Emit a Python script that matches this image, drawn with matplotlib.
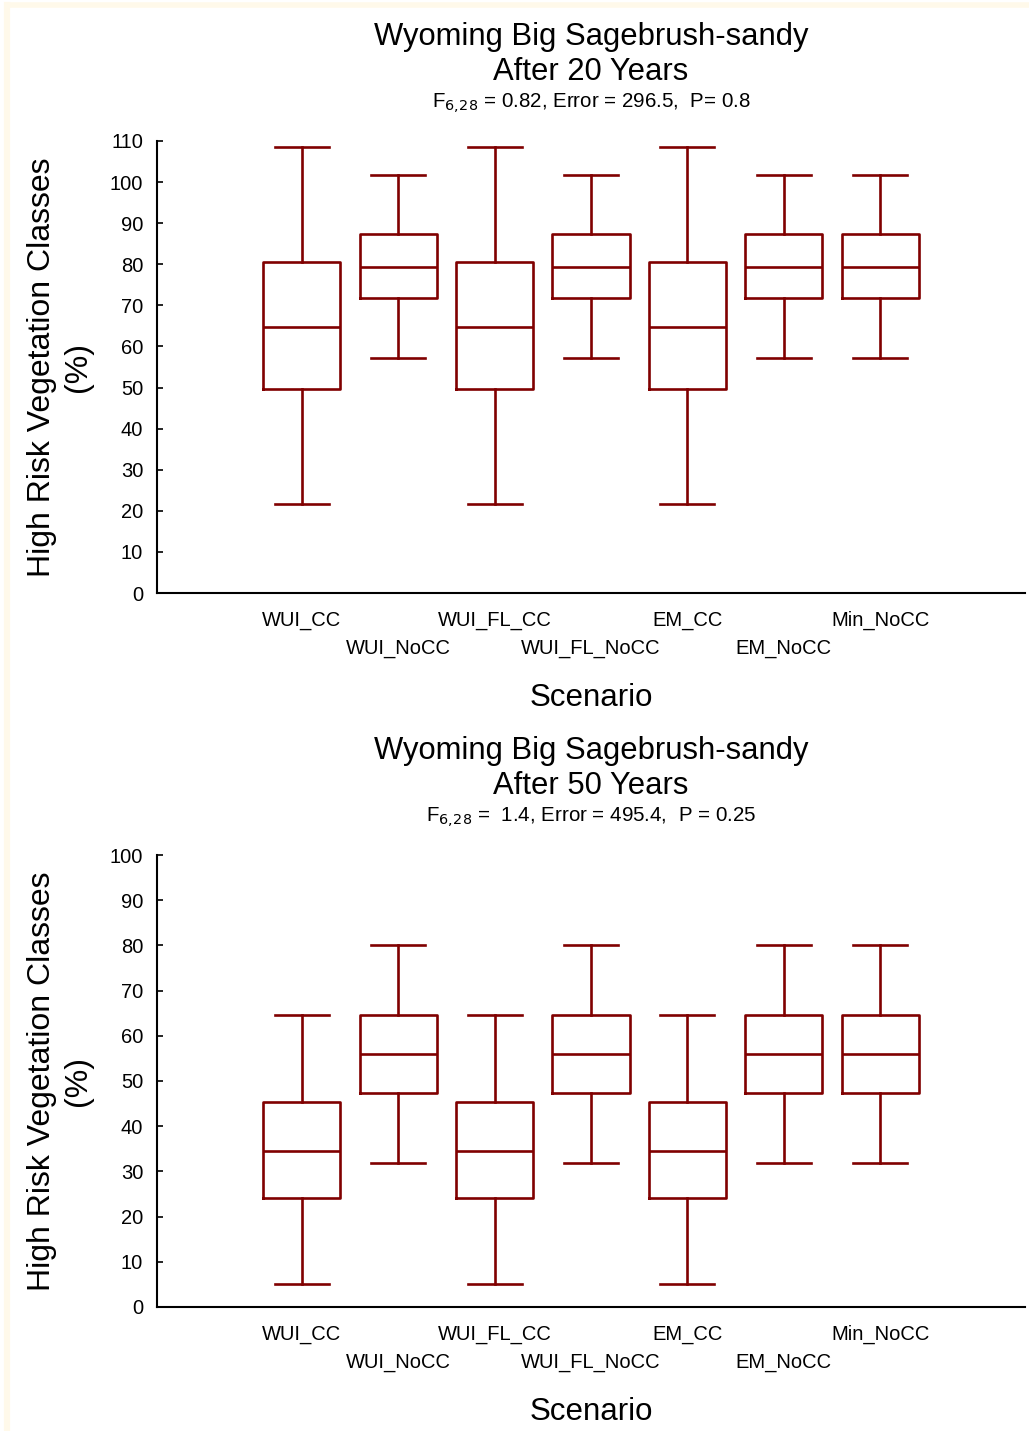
import matplotlib
matplotlib.use("Agg")
import matplotlib.pyplot as plt
from matplotlib.lines import Line2D

plt.rcParams['font.family'] = ['Liberation Sans', 'DejaVu Sans']

# scenario names
scenarios = ["WUI_CC", "WUI_NoCC", "WUI_FL_CC", "WUI_FL_NoCC", "EM_CC", "EM_NoCC", "Min_NoCC"]

# after 20 years
lo20 = [21.7, 57.2, 21.7, 57.2, 21.7, 57.2, 57.2]
q1_20 = [49.6, 71.7, 49.6, 71.7, 49.6, 71.7, 71.7]
med20 = [64.8, 79.3, 64.8, 79.3, 64.8, 79.3, 79.3]
q3_20 = [80.6, 87.4, 80.6, 87.4, 80.6, 87.4, 87.4]
hi20 = [108.6, 101.8, 108.6, 101.8, 108.6, 101.8, 101.8]

# after 50 years
lo50 = [5.1, 31.9, 5.1, 31.9, 5.1, 31.9, 31.9]
q1_50 = [24.1, 47.3, 24.1, 47.3, 24.1, 47.3, 47.3]
med50 = [34.6, 56.0, 34.6, 56.0, 34.6, 56.0, 56.0]
q3_50 = [45.4, 64.6, 45.4, 64.6, 45.4, 64.6, 64.6]
hi50 = [64.6, 80.0, 64.6, 80.0, 64.6, 80.0, 80.0]

red = '#800000'

fig = plt.figure(figsize=(10.29, 14.31), dpi=100)

# faint cream edge on the top and left of the original image
cream = '#FFF9EA'
fig.lines.append(Line2D([0.0068, 1.0], [0.9962, 0.9962], transform=fig.transFigure, color=cream, linewidth=4))
fig.lines.append(Line2D([0.0068, 0.0068], [0.0, 0.9962], transform=fig.transFigure, color=cream, linewidth=4.5))


def panel(rect, lo, q1, med, q3, hi, ymax, years, stats_text):
    ax = fig.add_axes(rect)
    stats = []
    for i in range(len(scenarios)):
        stats.append(dict(whislo=lo[i], q1=q1[i], med=med[i], q3=q3[i], whishi=hi[i], fliers=[]))
    ax.bxp(stats, positions=range(1, 8), widths=0.8, showfliers=False,
           boxprops=dict(color=red, linewidth=1.9),
           whiskerprops=dict(color=red, linewidth=1.9),
           capprops=dict(color=red, linewidth=1.9),
           medianprops=dict(color=red, linewidth=1.9),
           capwidths=0.56)
    ax.set_xlim(-0.5, 8.5)
    ax.set_ylim(0, ymax)
    ax.set_yticks(range(0, ymax + 1, 10))
    ax.spines['top'].set_visible(False)
    ax.spines['right'].set_visible(False)
    ax.spines['left'].set_linewidth(1.5)
    ax.spines['bottom'].set_linewidth(1.5)
    ax.tick_params(axis='y', direction='in', length=4, width=1.2, labelsize=14.5, pad=10)
    # staggered category labels
    ax.set_xticks([1, 3, 5, 7])
    ax.set_xticklabels([scenarios[i] for i in (0, 2, 4, 6)])
    ax.set_xticks([2, 4, 6], minor=True)
    ax.set_xticklabels([scenarios[i] for i in (1, 3, 5)], minor=True)
    ax.tick_params(axis='x', which='major', length=0, labelsize=14.5, pad=13)
    ax.tick_params(axis='x', which='minor', length=0, labelsize=14.5, pad=33)
    ax.set_xlabel('Scenario', fontsize=22.5, labelpad=18)
    ax.set_ylabel('High Risk Vegetation Classes\n(%)', fontsize=23, labelpad=12, linespacing=1.27)
    ax.text(0.5, 1.12, 'Wyoming Big Sagebrush-sandy\nAfter %d Years' % years, transform=ax.transAxes,
            ha='center', va='bottom', fontsize=22.3, linespacing=1.22)
    ax.text(0.5, 1.055, stats_text, transform=ax.transAxes, ha='center', va='bottom', fontsize=14.8)
    return ax


panel([0.1526, 0.5856, 0.8434, 0.3159], lo20, q1_20, med20, q3_20, hi20, 110, 20,
      r'F$_{6,\!28}$ = 0.82, Error = 296.5,  P= 0.8')
panel([0.1526, 0.0867, 0.8434, 0.3158], lo50, q1_50, med50, q3_50, hi50, 100, 50,
      r'F$_{6,\!28}$ =  1.4, Error = 495.4,  P = 0.25')

fig.savefig('out.png', dpi=100)
